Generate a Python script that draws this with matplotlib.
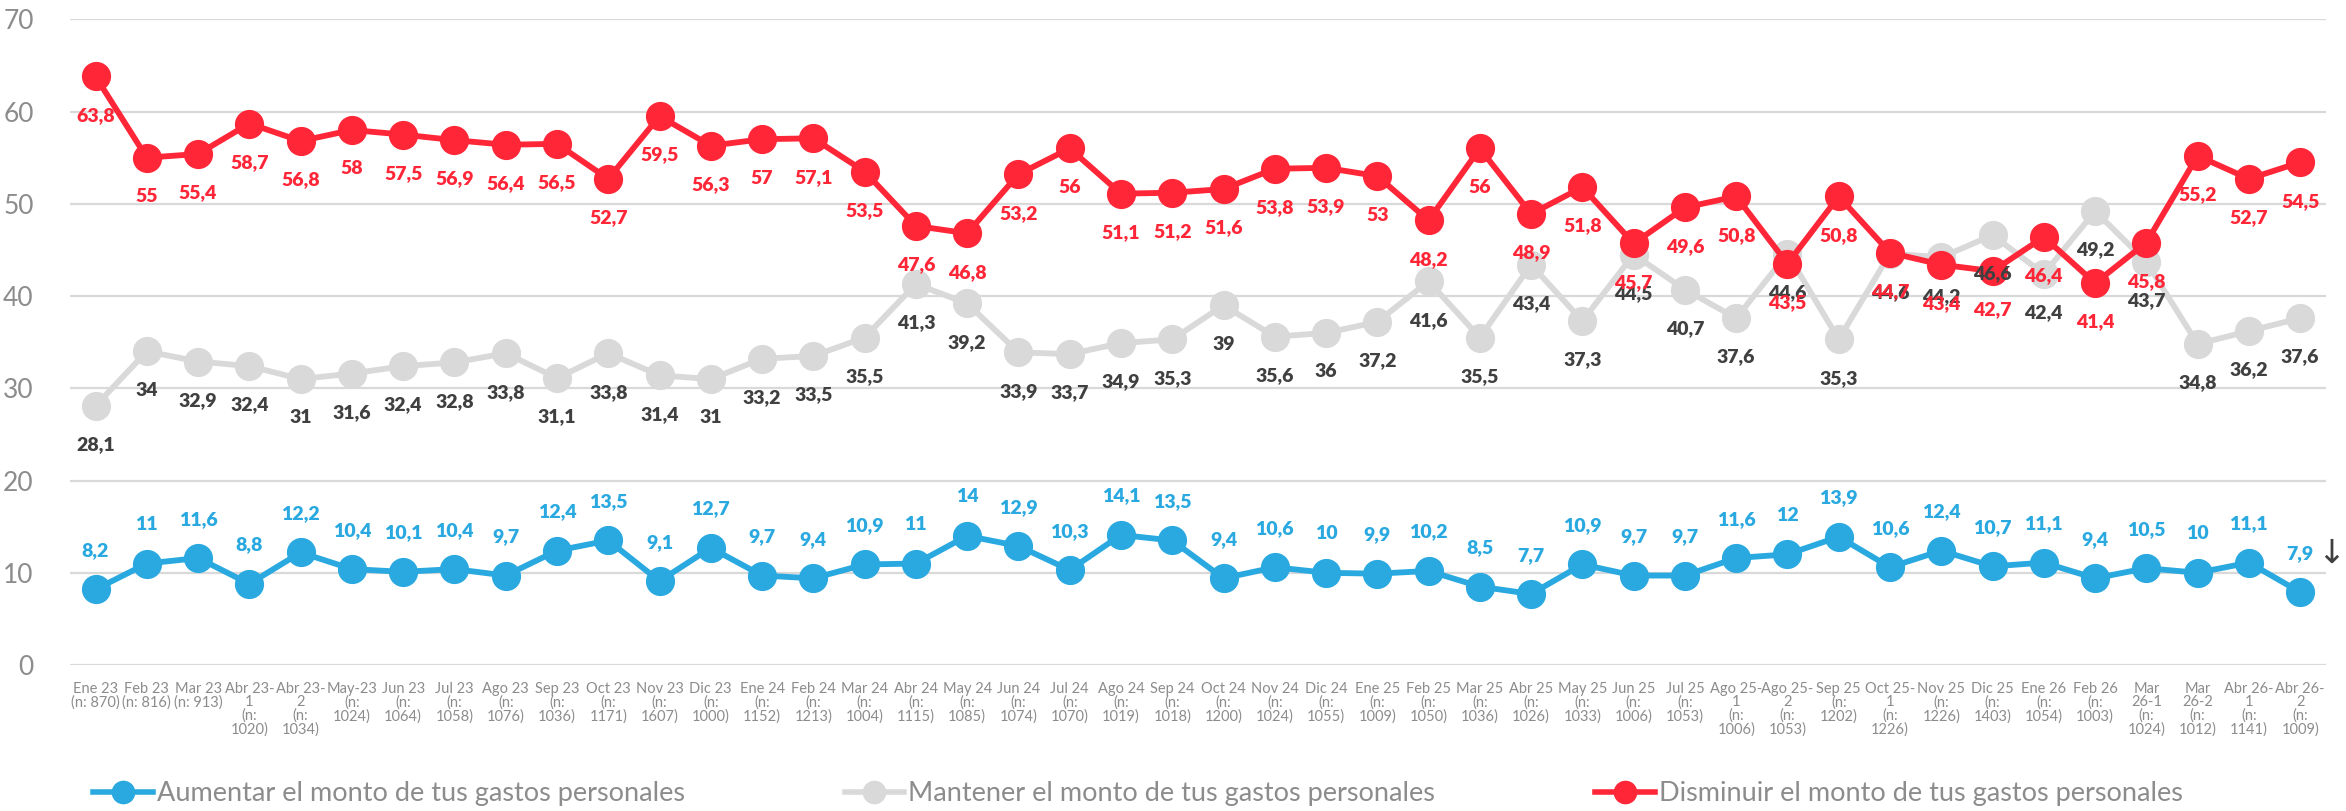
import matplotlib
matplotlib.use('Agg')
import matplotlib.pyplot as plt
from matplotlib.lines import Line2D

plt.rcParams['font.family'] = ['Lato', 'DejaVu Sans']

# Periods (as wrapped on the axis) and sample sizes
periods = ['Ene 23', 'Feb 23', 'Mar 23', 'Abr 23-\n1', 'Abr 23-\n2', 'May-23', 'Jun 23', 'Jul 23',
           'Ago 23', 'Sep 23', 'Oct 23', 'Nov 23', 'Dic 23', 'Ene 24', 'Feb 24', 'Mar 24',
           'Abr 24', 'May 24', 'Jun 24', 'Jul 24', 'Ago 24', 'Sep 24', 'Oct 24', 'Nov 24',
           'Dic 24', 'Ene 25', 'Feb 25', 'Mar 25', 'Abr 25', 'May 25', 'Jun 25', 'Jul 25',
           'Ago 25-\n1', 'Ago 25-\n2', 'Sep 25', 'Oct 25-\n1', 'Nov 25', 'Dic 25', 'Ene 26',
           'Feb 26', 'Mar\n26-1', 'Mar\n26-2', 'Abr 26-\n1', 'Abr 26-\n2']
n_sizes = [870, 816, 913, 1020, 1034, 1024, 1064, 1058, 1076, 1036, 1171, 1607, 1000, 1152,
           1213, 1004, 1115, 1085, 1074, 1070, 1019, 1018, 1200, 1024, 1055, 1009, 1050, 1036,
           1026, 1033, 1006, 1053, 1006, 1053, 1202, 1226, 1226, 1403, 1054, 1003, 1024, 1012,
           1141, 1009]

aumentar = [8.2, 11, 11.6, 8.8, 12.2, 10.4, 10.1, 10.4, 9.7, 12.4, 13.5, 9.1, 12.7, 9.7, 9.4,
            10.9, 11, 14, 12.9, 10.3, 14.1, 13.5, 9.4, 10.6, 10, 9.9, 10.2, 8.5, 7.7, 10.9,
            9.7, 9.7, 11.6, 12, 13.9, 10.6, 12.4, 10.7, 11.1, 9.4, 10.5, 10, 11.1, 7.9]
mantener = [28.1, 34, 32.9, 32.4, 31, 31.6, 32.4, 32.8, 33.8, 31.1, 33.8, 31.4, 31, 33.2, 33.5,
            35.5, 41.3, 39.2, 33.9, 33.7, 34.9, 35.3, 39, 35.6, 36, 37.2, 41.6, 35.5, 43.4, 37.3,
            44.5, 40.7, 37.6, 44.6, 35.3, 44.6, 44.2, 46.6, 42.4, 49.2, 43.7, 34.8, 36.2, 37.6]
disminuir = [63.8, 55, 55.4, 58.7, 56.8, 58, 57.5, 56.9, 56.4, 56.5, 52.7, 59.5, 56.3, 57, 57.1,
             53.5, 47.6, 46.8, 53.2, 56, 51.1, 51.2, 51.6, 53.8, 53.9, 53, 48.2, 56, 48.9, 51.8,
             45.7, 49.6, 50.8, 43.5, 50.8, 44.7, 43.4, 42.7, 46.4, 41.4, 45.8, 55.2, 52.7, 54.5]

BLUE = '#29A9E0'
GRAY = '#D9D9D9'
RED = '#FF2638'
LABEL_GRAY = '#404040'
TEXT_GRAY = '#8C8C8C'


def tick_text(period, n):
    if n < 1000:
        return f'{period}\n(n: {n})'
    return f'{period}\n(n:\n{n})'


def fmt(v):
    return f'{v:g}'.replace('.', ',')


fig = plt.figure(figsize=(23.46, 8.11), dpi=100)
ax = fig.add_axes([0.0298, 0.1800, 0.9616, 0.7962])

x = list(range(len(periods)))
series = [
    (aumentar, BLUE, BLUE, 28),
    (mantener, GRAY, LABEL_GRAY, -28),
    (disminuir, RED, RED, -28),
]
for vals, color, lab_color, dy in series:
    ax.plot(x, vals, color=color, lw=4.2, marker='o', markersize=20, zorder=3)

for vals, color, lab_color, dy in series:
    for xi, v in zip(x, vals):
        ax.annotate(fmt(v), (xi, v), xytext=(0, dy), textcoords='offset points',
                    ha='center', va='center', fontsize=14, fontweight='heavy',
                    color=lab_color, zorder=5)

# downward marker next to the last value
ax.annotate('\u2193', (x[-1], aumentar[-1]), xytext=(22, 28), textcoords='offset points',
            ha='center', va='center', fontsize=24, color=LABEL_GRAY,
            family=['DejaVu Sans'])

ax.set_xlim(-0.5, len(periods) - 0.5)
ax.set_ylim(0, 70)
ax.set_yticks(range(0, 71, 10))
ax.set_xticks(x)
ax.set_xticklabels([tick_text(p, n) for p, n in zip(periods, n_sizes)],
                   fontsize=10.5, color=TEXT_GRAY, linespacing=0.95, va='top')
ax.tick_params(axis='x', length=0, pad=12)
ax.tick_params(axis='y', length=0, pad=26, labelsize=19, labelcolor=TEXT_GRAY)
ax.grid(axis='y', color=GRAY, lw=1.6)
ax.set_axisbelow(True)
for s in ax.spines.values():
    s.set_visible(False)

handles = [
    Line2D([], [], color=BLUE, lw=4, marker='o', markersize=16),
    Line2D([], [], color=GRAY, lw=4, marker='o', markersize=16),
    Line2D([], [], color=RED, lw=4, marker='o', markersize=16),
]
names = ['Aumentar el monto de tus gastos personales',
         'Mantener el monto de tus gastos personales',
         'Disminuir el monto de tus gastos personales']
leg = fig.legend(handles, names, loc='center', bbox_to_anchor=(0.485, 0.021), ncol=3,
                 frameon=False, fontsize=19.5, handlelength=2.2, handletextpad=0.15,
                 columnspacing=5.9, labelcolor=TEXT_GRAY)

fig.savefig('out.png', dpi=100)
